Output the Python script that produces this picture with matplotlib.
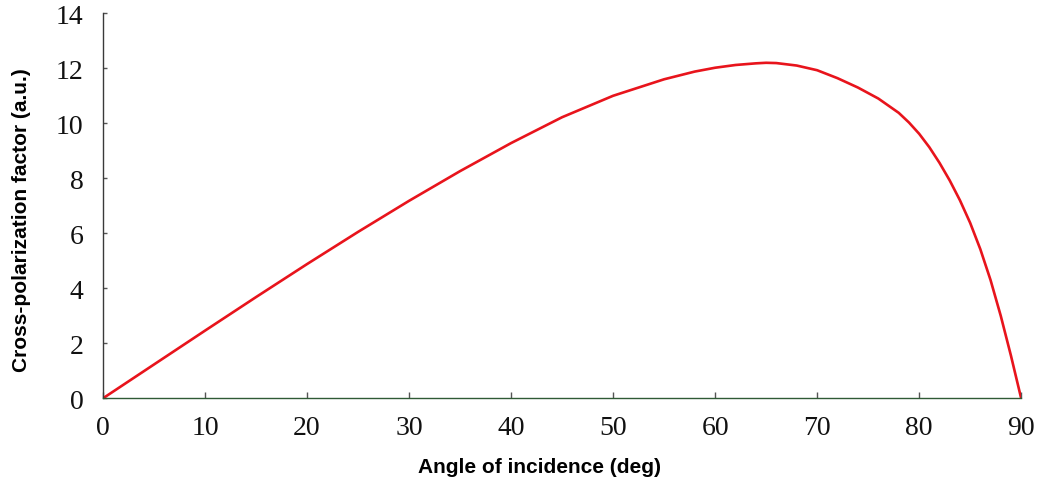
import matplotlib
matplotlib.use("Agg")
import matplotlib.pyplot as plt

angle_deg = [0, 5, 10, 15, 20, 25, 30, 35, 40, 45, 50, 55, 58, 60, 62, 64, 65, 66, 68,
             70, 72, 74, 76, 78, 79, 80, 81, 82, 83, 84, 85, 86, 87, 88, 89, 90]
cross_pol = [0, 1.23, 2.46, 3.68, 4.88, 6.05, 7.18, 8.26, 9.28, 10.22, 11.0, 11.6, 11.88,
             12.02, 12.12, 12.18, 12.2, 12.19, 12.1, 11.93, 11.64, 11.3, 10.9, 10.38,
             10.03, 9.62, 9.13, 8.56, 7.92, 7.2, 6.38, 5.42, 4.3, 3.0, 1.55, 0]
x_ticks = [0, 10, 20, 30, 40, 50, 60, 70, 80, 90]
y_ticks = [0, 2, 4, 6, 8, 10, 12, 14]

fig = plt.figure(figsize=(10.42, 4.81), dpi=100)
ax = fig.add_axes([0.0988, 0.1698, 0.8812, 0.8005])
ax.plot(angle_deg, cross_pol, color="#e8141c", lw=1.9, solid_joinstyle="round",
        solid_capstyle="round")
ax.set_xlim(0, 90)
ax.set_ylim(0, 14)
ax.set_xticks(x_ticks)
ax.set_yticks(y_ticks)
for s in ["top", "right"]:
    ax.spines[s].set_visible(False)
ax.spines["left"].set_color("#3a3a3a")
ax.spines["bottom"].set_color("#2f5a35")
ax.spines["left"].set_linewidth(1.0)
ax.spines["bottom"].set_linewidth(1.0)
ax.tick_params(axis="x", direction="in", length=4, width=1, color="#555555", pad=12)
ax.tick_params(axis="y", direction="in", length=3, width=1, color="#555555", pad=14)
for lab in ax.get_xticklabels() + ax.get_yticklabels():
    lab.set_fontfamily("Liberation Serif")
    lab.set_fontsize(20)
    lab.set_color("#111111")
ax.set_xlabel("Angle of incidence (deg)", fontfamily="Liberation Sans", fontweight="bold",
              fontsize=15, labelpad=12)
ax.set_ylabel("Cross-polarization factor (a.u.)", fontfamily="Liberation Sans",
              fontweight="bold", fontsize=15, labelpad=18)
ax.xaxis.label.set_x(0.475)
ax.yaxis.label.set_y(0.466)
fig.savefig("out.png", dpi=100, facecolor="white")
